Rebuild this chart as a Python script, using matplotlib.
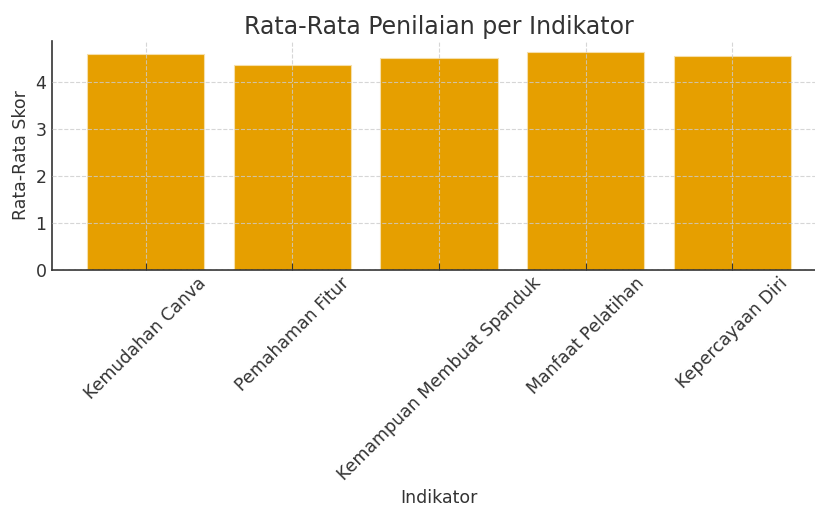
import matplotlib
matplotlib.use("Agg")
import matplotlib.pyplot as plt

categories = ["Kemudahan Canva", "Pemahaman Fitur", "Kemampuan Membuat Spanduk",
              "Manfaat Pelatihan", "Kepercayaan Diri"]
scores = [4.60, 4.37, 4.51, 4.64, 4.56]

title = "Rata-Rata Penilaian per Indikator"
xlabel = "Indikator"
ylabel = "Rata-Rata Skor"

plt.rcParams['font.family'] = ['DejaVu Sans']
txt = '#333333'

fig = plt.figure(figsize=(8.15, 5.08), dpi=100)
ax = fig.add_axes([52/815, 1-270/508, (826-52)/815, (270-41)/508])

ax.bar(range(len(categories)), scores, width=0.8, color='#E69F00',
       edgecolor='#f6dfaa', linewidth=0.8, zorder=1)
ax.set_axisbelow(False)
ax.grid(True, linestyle='--', color='#cccccc', alpha=0.8, linewidth=0.8, zorder=2)

ax.set_xticks(range(len(categories)))
ax.set_xticklabels(categories, rotation=45, ha='center', fontsize=12.5, color=txt)
ax.set_yticks([0, 1, 2, 3, 4])
ax.tick_params(axis='y', labelsize=12.5, labelcolor=txt, direction='in', length=0, pad=4)
ax.tick_params(axis='x', direction='in', length=5, color=txt, pad=3)

ax.set_title(title, fontsize=17, color=txt, pad=5)
ax.set_xlabel(xlabel, fontsize=12.5, color=txt, labelpad=3.5)
ax.set_ylabel(ylabel, fontsize=12.5, color=txt, labelpad=4)

for s in ['top', 'right']:
    ax.spines[s].set_visible(False)
for s in ['left', 'bottom']:
    ax.spines[s].set_color(txt)
    ax.spines[s].set_linewidth(1.2)

fig.savefig("out.png", dpi=100)
